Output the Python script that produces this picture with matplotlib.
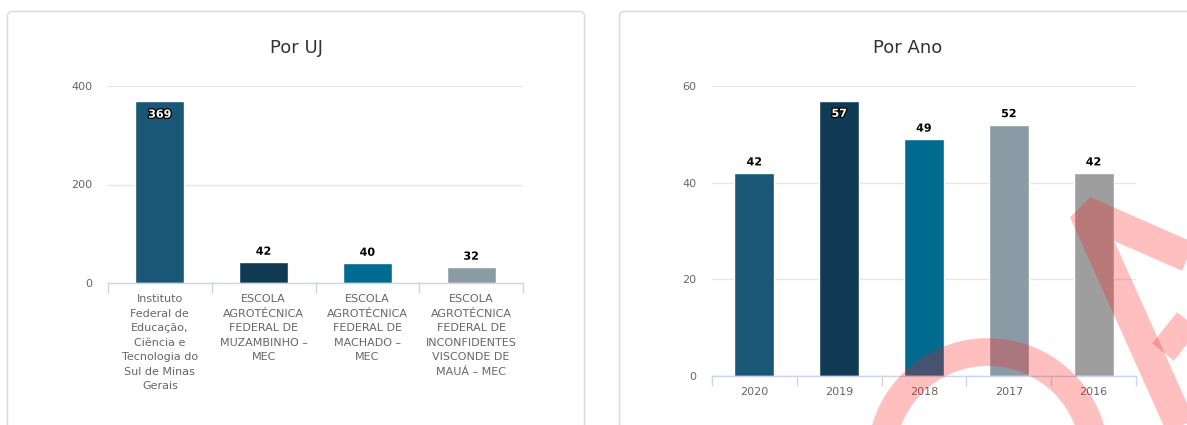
import matplotlib
matplotlib.use("Agg")
import matplotlib.pyplot as plt
from matplotlib.patches import FancyBboxPatch, Arc
import matplotlib.patheffects as pe

# ---------------- data ----------------
uj_title = "Por UJ"
uj_labels = [
    "Instituto\nFederal de\nEducação,\nCiência e\nTecnologia do\nSul de Minas\nGerais",
    "ESCOLA\nAGROTÉCNICA\nFEDERAL DE\nMUZAMBINHO –\nMEC",
    "ESCOLA\nAGROTÉCNICA\nFEDERAL DE\nMACHADO –\nMEC",
    "ESCOLA\nAGROTÉCNICA\nFEDERAL DE\nINCONFIDENTES\nVISCONDE DE\nMAUÁ – MEC",
]
uj_values = [369, 42, 40, 32]
uj_yticks = [0, 200, 400]

ano_title = "Por Ano"
ano_labels = ["2020", "2019", "2018", "2017", "2016"]
ano_values = [42, 57, 49, 52, 42]
ano_yticks = [0, 20, 40, 60]

# ---------------- styles ----------------
uj_colors = ["#1a5676", "#113b55", "#006a8f", "#8b9ba5"]
ano_colors = ["#1a5676", "#113b55", "#006a8f", "#8b9ba5", "#9e9e9e"]

W, H = 1187, 425
fig = plt.figure(figsize=(W / 100, H / 100), dpi=100)
fig.patch.set_facecolor("white")
plt.rcParams["font.family"] = ["DejaVu Sans"]

# background cards
bg = fig.add_axes([0, 0, 1, 1], zorder=0)
bg.set_xlim(0, W)
bg.set_ylim(H, 0)
bg.axis("off")
for x0, w in [(7.5, 577), (619.5, 620)]:
    bg.add_patch(FancyBboxPatch((x0, 11.5), w, 440,
                                boxstyle="round,pad=0,rounding_size=5",
                                fc="white", ec="#d9d9d9", lw=1.0))


def px_axes(l, r, top, bottom):
    return fig.add_axes([l / W, 1 - bottom / H, (r - l) / W, (bottom - top) / H], zorder=2)


def draw_chart(ax, labels, values, colors, yticks, title, title_x, label_fs, lsp):
    n = len(values)
    x = list(range(n))
    ax.set_facecolor("none")
    ax.set_xlim(-0.5, n - 0.5)
    ax.set_ylim(yticks[0], yticks[-1])
    ax.bar(x, values, width=0.47, color=colors, edgecolor="white", linewidth=1, zorder=3)
    for s in ["top", "right", "left"]:
        ax.spines[s].set_visible(False)
    ax.spines["bottom"].set_color("#ccd6eb")
    ax.spines["bottom"].set_linewidth(1)
    ax.spines["bottom"].set_zorder(4)
    ax.set_yticks(yticks)
    ax.yaxis.grid(True, color="#e6e6e6", linewidth=1)
    ax.set_axisbelow(True)
    ax.tick_params(axis="y", length=0, pad=11, labelsize=8, labelcolor="#666666")
    ax.set_xticks(x)
    ax.set_xticklabels(labels, fontsize=label_fs, color="#666666", linespacing=lsp, va="top")
    ax.set_xticks([i - 0.5 for i in range(n + 1)], minor=True)
    ax.tick_params(axis="x", which="major", length=0, pad=8)
    ax.tick_params(axis="x", which="minor", length=7.2, width=1, color="#ccd6eb")
    # data labels
    ymax = yticks[-1]
    plot_h_pt = ax.get_position().height * H * 0.72
    for xi, v in zip(x, values):
        inside = (ymax - v) / ymax * plot_h_pt < 14
        if inside:
            ax.annotate(str(v), (xi, v), xytext=(0, -6), textcoords="offset points",
                        ha="center", va="top", fontsize=8, fontweight="bold", color="white",
                        path_effects=[pe.withStroke(linewidth=1.8, foreground="black")], zorder=5)
        else:
            ax.annotate(str(v), (xi, v), xytext=(0, 4), textcoords="offset points",
                        ha="center", va="bottom", fontsize=8, fontweight="bold", color="black",
                        path_effects=[pe.withStroke(linewidth=1.8, foreground="white")], zorder=5)
    fig.text(title_x / W, 1 - 48 / H, title, ha="center", va="center",
             fontsize=13, color="#333333")


ax1 = px_axes(108, 523, 86, 283)
draw_chart(ax1, uj_labels, uj_values, uj_colors, uj_yticks, uj_title, 296, 8.0, 1.56)

ax2 = px_axes(712, 1136, 86, 376)
draw_chart(ax2, ano_labels, ano_values, ano_colors, ano_yticks, ano_title, 908, 8, 1.2)

# translucent red watermark overlay
ov = fig.add_axes([0, 0, 1, 1], zorder=10)
ov.set_xlim(0, W)
ov.set_ylim(H, 0)
ov.axis("off")
ov.set_facecolor("none")
wm_col = "#ff1a1a"
wm_alpha = 0.28
ov.add_patch(Arc((988, 459), 214, 214, theta1=180, theta2=360,
                 edgecolor=wm_col, alpha=wm_alpha, linewidth=20))
ov.plot([1185, 1084, 1200], [436, 211, 262], color=wm_col, alpha=wm_alpha,
        linewidth=22, solid_capstyle="butt", solid_joinstyle="bevel")
ov.plot([1163, 1200], [352, 306], color=wm_col, alpha=wm_alpha,
        linewidth=20, solid_capstyle="butt")

fig.savefig("out.png", dpi=100, facecolor="white")
